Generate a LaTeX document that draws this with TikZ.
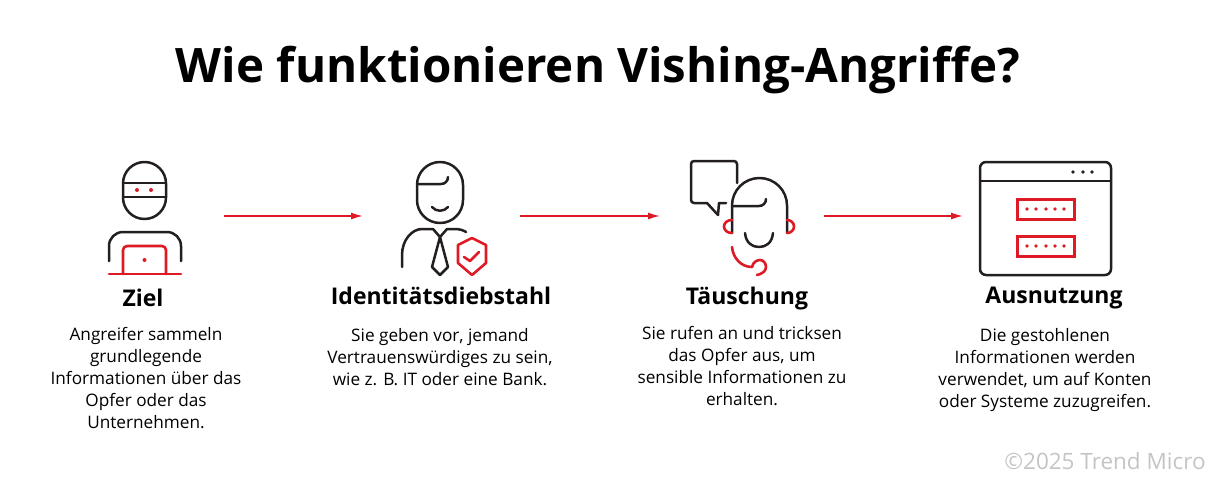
\documentclass[tikz,border=0pt]{standalone}
\usepackage{fontspec}
\setmainfont{Open Sans}
\usetikzlibrary{arrows.meta}
\definecolor{tmred}{HTML}{DE1B24}
\definecolor{tmdark}{HTML}{231F20}
\definecolor{tmgray}{HTML}{C4C4C4}
\tikzset{
    icon/.style={draw=tmdark,line width=2.5pt,line cap=round,line join=round},
    iconred/.style={draw=tmred,line width=2.6pt,line cap=round,line join=round},
    reddot/.style={fill=tmred,draw=none},
    darkdot/.style={fill=tmdark,draw=none},
    flow/.style={draw=tmred,line width=1.6pt,-{Latex[length=12pt,width=7pt]}},
    heading/.style={font=\fontsize{23}{27}\selectfont\bfseries,text=black},
    body/.style={font=\fontsize{17.2}{22}\selectfont,align=center,text=black},
}
\begin{document}
\begin{tikzpicture}[x=1pt,y=-1pt]
\useasboundingbox (0,0) rectangle (1220,490);

\def\headY{296}
\def\arrowY{216}

\draw (598,70) node[font=\fontsize{47.5}{57}\selectfont\bfseries,text=black](title) {Wie funktionieren Vishing-Angriffe?};

% Ziel
\draw[icon] (123,183.5) arc[start angle=-180,end angle=0,radius=21.5] -- (166,197.5) arc[start angle=0,end angle=180,radius=21.5] -- cycle;
\draw[icon] (123,183) -- (166,183);
\draw[icon] (123,197) -- (166,197);
\fill[reddot] (137,190) circle (2);
\fill[reddot] (151,190) circle (2);
\draw[icon] (109,261) -- (109,246) arc[start angle=-180,end angle=-90,radius=14] -- (167,232) arc[start angle=-90,end angle=0,radius=14] -- (181,261);
\draw[iconred] (123,274) -- (123,250) arc[start angle=-180,end angle=-90,radius=4] -- (162,246) arc[start angle=-90,end angle=0,radius=4] -- (166,274);
\draw[iconred] (109,274) -- (181,274);
\fill[reddot] (144.5,260) circle (2);

% Identitaet
\draw[icon] (417,185) arc[start angle=-180,end angle=0,radius=23] -- (463,200) arc[start angle=0,end angle=180,radius=23] -- cycle;
\draw[icon] (417,184) -- (441,184) .. controls (445,184) and (448,181) .. (448,177);
\draw[icon] (432,207) .. controls (436,212) and (444,212) .. (448,207);
\draw[icon] (402,267) -- (402,255) .. controls (402,240) and (412,229) .. (422,229) -- (433,229) -- (440,237) -- (447,229) -- (455,229) .. controls (459,229) and (463,230) .. (466,232);
\draw[icon] (440,237) -- (432,267) -- (440,275) -- (448,267) -- cycle;
\draw[iconred] (472,238) -- (486,245) -- (486,263) -- (472,275) -- (458,263) -- (458,245) -- cycle;
\draw[iconred] (464,257) -- (470,261) -- (479,252);

% Taeuschung
\draw[icon] (737,183) -- (737,164) arc[start angle=0,end angle=-90,radius=3] -- (694,161) arc[start angle=-90,end angle=-180,radius=3] -- (691,200) arc[start angle=180,end angle=90,radius=3] -- (707,203) -- (718,215) -- (719,203) -- (726,203);
\draw[icon] (732,233) -- (732,205.5) arc[start angle=-180,end angle=0,radius=27.5] -- (787,233);
\draw[icon] (732,206) -- (759,206) .. controls (763,206) and (766,203) .. (766,199);
\draw[icon] (745,233) .. controls (746,243) and (752,247) .. (759,247) .. controls (766,247) and (772,243) .. (773,233);
\draw[iconred] (732,220) .. controls (727,220) and (724,223) .. (724,226.5) .. controls (724,230) and (727,233) .. (732,233);
\draw[iconred] (787,220) .. controls (791,220) and (794,223) .. (794,226.5) .. controls (794,230) and (791,233) .. (787,233);
\draw[iconred] (732,247) .. controls (733,258) and (741,267) .. (752,267) .. controls (753,262) and (757,260) .. (760,260) .. controls (764,260) and (766,264) .. (766,267) .. controls (766,271) and (762,274) .. (757,275);

% Ausnutzung
\draw[icon] (986,162) -- (1105,162) arc[start angle=-90,end angle=0,radius=6] -- (1111,269) arc[start angle=0,end angle=90,radius=6] -- (986,275) arc[start angle=90,end angle=180,radius=6] -- (980,168) arc[start angle=180,end angle=270,radius=6] -- cycle;
\draw[icon] (980,181) -- (1111,181);
\foreach \dotX in {1073,1083,1092} {
    \fill[darkdot] (\dotX,172) circle (1.8);
}
\draw[iconred,line width=3pt,line cap=butt,line join=miter] (1017,199) rectangle (1074,219);
\draw[iconred,line width=3pt,line cap=butt,line join=miter] (1017,236) rectangle (1074,256);
\foreach \dotX in {1027,1036,1046,1055,1064} {
    \fill[reddot] (\dotX,209) circle (1.8);
    \fill[reddot] (\dotX,246) circle (1.8);
}

% Pfeile
\coordinate (zielEnd) at (224,\arrowY);
\coordinate (identStart) at (363,\arrowY);
\coordinate (identEnd) at (520,\arrowY);
\coordinate (taeuschStart) at (660,\arrowY);
\coordinate (taeuschEnd) at (824,\arrowY);
\coordinate (ausnutzStart) at (963,\arrowY);
\draw[flow] (zielEnd) -- (identStart);
\draw[flow] (identEnd) -- (taeuschStart);
\draw[flow] (taeuschEnd) -- (ausnutzStart);

\draw (143,298) node[heading](ziel) {Ziel};
\draw (441,\headY) node[heading](ident) {Identitätsdiebstahl};
\draw (747,298.5) node[heading](taeusch) {Täuschung};
\draw (1054,298.5) node[heading](ausnutz) {Ausnutzung};

\draw (146,378) node[body](zielText) {Angreifer sammeln\\grundlegende\\Informationen über das\\Opfer oder das\\Unternehmen.};
\draw (440,357) node[body](identText) {Sie geben vor, jemand\\Vertrauenswürdiges zu sein,\\wie z. B. IT oder eine Bank.};
\draw (742,366) node[body](taeuschText) {Sie rufen an und tricksen\\das Opfer aus, um\\sensible Informationen zu\\erhalten.};
\draw (1045,370) node[body](ausnutzText) {Die gestohlenen\\Informationen werden\\verwendet, um auf Konten\\oder Systeme zuzugreifen.};

\draw (1105,461) node[font=\fontsize{22.5}{27}\selectfont,text=tmgray](copyright) {©2025 Trend Micro};

\end{tikzpicture}
\end{document}
